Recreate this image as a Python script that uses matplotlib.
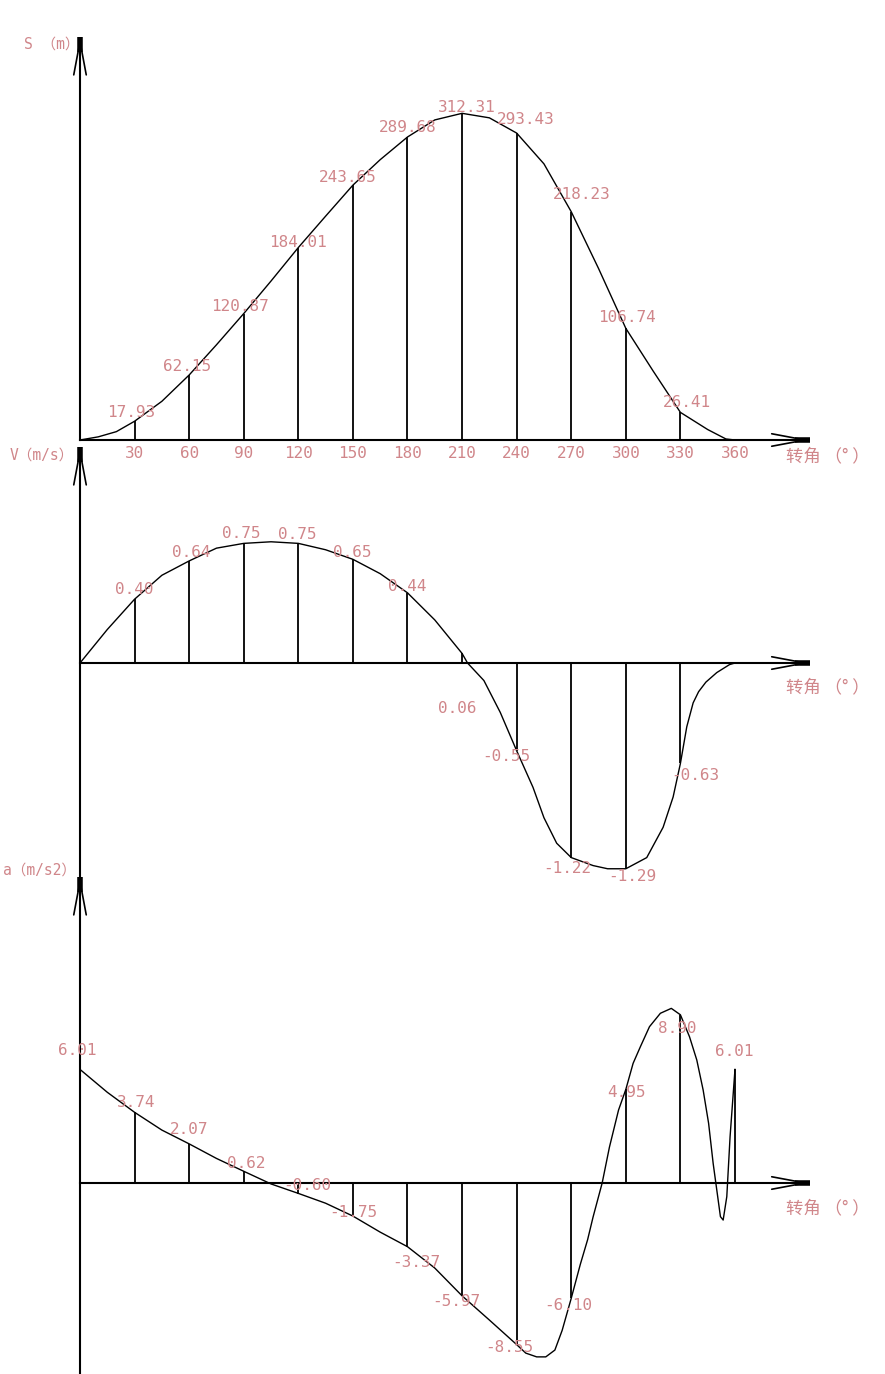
import matplotlib
matplotlib.use('Agg')
import matplotlib.pyplot as plt
import matplotlib.transforms as mtransforms

# crank angle (deg) and labelled values, every 30 deg
angles = [0, 30, 60, 90, 120, 150, 180, 210, 240, 270, 300, 330, 360]
s_values = [0, 17.93, 62.15, 120.87, 184.01, 243.65, 289.68, 312.31, 293.43, 218.23, 106.74, 26.41, 0]
v_values = [0, 0.40, 0.64, 0.75, 0.75, 0.65, 0.44, 0.06, -0.55, -1.22, -1.29, -0.63, 0]
a_values = [6.01, 3.74, 2.07, 0.62, -0.60, -1.75, -3.37, -5.97, -8.55, -6.10, 4.95, 8.90, 6.01]

# traced curves
s_deg = [0, 10, 20, 30, 45, 60, 75, 90, 105, 120, 135, 150, 165, 180, 195, 210, 225,
         240, 255, 270, 285, 300, 315, 330, 345, 355, 360]
s_trace = [0, 3, 8, 17.93, 37, 62.15, 91, 120.87, 152, 184.01, 214, 243.65, 268, 289.68,
           306, 312.31, 308, 293.43, 264, 218.23, 164, 106.74, 66, 26.41, 10, 1, 0]

v_deg = [0, 15, 30, 45, 60, 75, 90, 105, 120, 135, 150, 165, 180, 195, 210, 213, 222, 231,
         240, 249, 255, 262, 270, 282, 290, 300, 311.5, 320.5, 326, 330, 333.5, 337, 340,
         344, 350, 357, 360]
v_trace = [0, 0.21, 0.40, 0.55, 0.64, 0.72, 0.75, 0.76, 0.75, 0.71, 0.65, 0.56, 0.44, 0.27,
           0.06, 0, -0.11, -0.31, -0.55, -0.78, -0.97, -1.13, -1.22, -1.27, -1.29, -1.29,
           -1.22, -1.03, -0.84, -0.63, -0.40, -0.25, -0.18, -0.12, -0.06, -0.01, 0]

a_deg = [0, 15, 30, 45, 60, 75, 90, 105, 120, 135, 150, 165, 180, 195, 210, 225, 240, 245,
         251, 256, 261, 265, 270, 275, 279, 282, 287, 291, 296, 300, 304, 308, 313, 319, 325,
         330, 335, 339, 342.5, 345.5, 348, 350, 352, 353.5, 355.5, 357.3, 360]
a_trace = [6.01, 4.8, 3.74, 2.8, 2.07, 1.3, 0.62, -0.05, -0.55, -1.07, -1.75, -2.6, -3.37, -4.5,
           -5.97, -7.25, -8.55, -9.0, -9.2, -9.2, -8.84, -7.8, -6.10, -4.3, -3.0, -1.8, 0, 1.9,
           3.86, 4.95, 6.33, 7.21, 8.27, 8.98, 9.24, 8.90, 7.74, 6.51, 4.92, 3.16, 1.04, -0.37,
           -1.78, -1.96, -0.72, 2.45, 6.01]

# label nudges in pixels (right, down)
s_off = [(-3, -9), (-2, -8), (-4, -7), (0, -5), (-5, -8), (0, -9), (5, -6), (9, -14), (11, -17), (1, -11), (7, -10)]
v_off = [(0, -10), (2, -8), (-2, -10), (-1, -9), (-1, -7), (0, -6), (-5, 55), (-10, 6), (-4, 11), (6, 8), (15, 12)]
a_off = [(-3, -19), (2, -10), (0, -14), (3, -8), (9, -9), (0, -4), (9, 16), (-6, 6), (-7, 3), (-3, 7), (1, 3), (-3, 14), (-1, -18)]

W, H = 885, 1374
PX_PER_DEG = 1.8194
PINK = '#d0868a'
NUM_FONT = ['DejaVu Sans Mono', 'Noto Sans CJK SC']
CJK_FONT = ['Noto Sans CJK SC', 'DejaVu Sans']

fig = plt.figure(figsize=(W / 100, H / 100), dpi=100)
fig.patch.set_facecolor('white')
# image pixel coords (origin top-left)
pix = mtransforms.Affine2D().scale(1 / W, -1 / H).translate(0, 1) + fig.transFigure


def panel(base, k):
    ax = fig.add_axes([0, 0, 1, 1])
    ax.set_xlim(-80 / PX_PER_DEG, (W - 80) / PX_PER_DEG)
    ax.set_ylim((base - H) / k, base / k)
    ax.axis('off')
    return ax


def axes_lines(ax, base, top, bottom, ylabel, lab_x, lab_y, rot_y, ticks=False):
    bl = mtransforms.blended_transform_factory(ax.transData, pix)
    # horizontal axis with arrow
    ax.plot([0, 395], [0, 0], color='black', lw=1.5)
    ax.annotate('', xy=(401, base), xytext=(375, base), xycoords=bl, textcoords=bl,
                arrowprops=dict(arrowstyle='->,head_length=2.4,head_width=0.45', lw=1.2,
                                color='black', mutation_scale=10, shrinkA=0, shrinkB=0))
    ax.plot([393, 401], [base, base], color='black', lw=4, transform=bl, solid_capstyle='butt')
    # vertical axis with arrow
    ax.plot([0, 0], [top + 5, bottom], color='black', lw=1.5, transform=bl)
    ax.annotate('', xy=(0, top), xytext=(0, top + 30), xycoords=bl, textcoords=bl,
                arrowprops=dict(arrowstyle='->,head_length=2.4,head_width=0.45', lw=1.2,
                                color='black', mutation_scale=10, shrinkA=0, shrinkB=0))
    ax.plot([0, 0], [top, top + 15], color='black', lw=4, transform=bl, solid_capstyle='butt')
    ax.text(lab_x, lab_y, ylabel, transform=pix, ha='right', va='center',
            fontsize=10.5, color=PINK, family=NUM_FONT)
    ax.text(786, rot_y, '转角 （° ）', transform=pix, ha='left', va='center',
            fontsize=12.5, color=PINK, family=CJK_FONT)
    if ticks:
        for d in angles[1:]:
            ax.text(d, 453, str(d), transform=bl, ha='center', va='center',
                    fontsize=11.5, color=PINK, family=NUM_FONT)


def value_labels(ax, degs, vals, offs):
    for d, v, (dx, dy) in zip(degs, vals, offs):
        ax.annotate('%.2f' % v, xy=(d, v), xytext=(dx, -dy), textcoords='offset pixels',
                    ha='center', va='center', fontsize=11.5, color=PINK, family=NUM_FONT)


# displacement
ax1 = panel(440, 1.046)
axes_lines(ax1, 440, 37, 440, 'S （m）', 79, 44, 456, ticks=True)
ax1.vlines(angles[1:-1], 0, s_values[1:-1], color='black', lw=1.3)
ax1.plot(s_deg, s_trace, color='black', lw=1.0)
value_labels(ax1, angles[1:-1], s_values[1:-1], s_off)

# velocity
ax2 = panel(663, 159.5)
axes_lines(ax2, 663, 447, 877, 'V（m/s）', 74, 455, 687)
ax2.vlines(angles[1:-1], 0, v_values[1:-1], color='black', lw=1.3)
ax2.plot(v_deg, v_trace, color='black', lw=1.0)
value_labels(ax2, angles[1:-1], v_values[1:-1], v_off)

# acceleration
ax3 = panel(1183, 18.9)
axes_lines(ax3, 1183, 877, H + 5, 'a（m/s2）', 76, 870, 1208)
ax3.vlines(angles[1:], 0, a_values[1:], color='black', lw=1.3)
ax3.plot(a_deg, a_trace, color='black', lw=1.0)
value_labels(ax3, angles, a_values, a_off)

fig.savefig('out.png', dpi=100, facecolor='white')
